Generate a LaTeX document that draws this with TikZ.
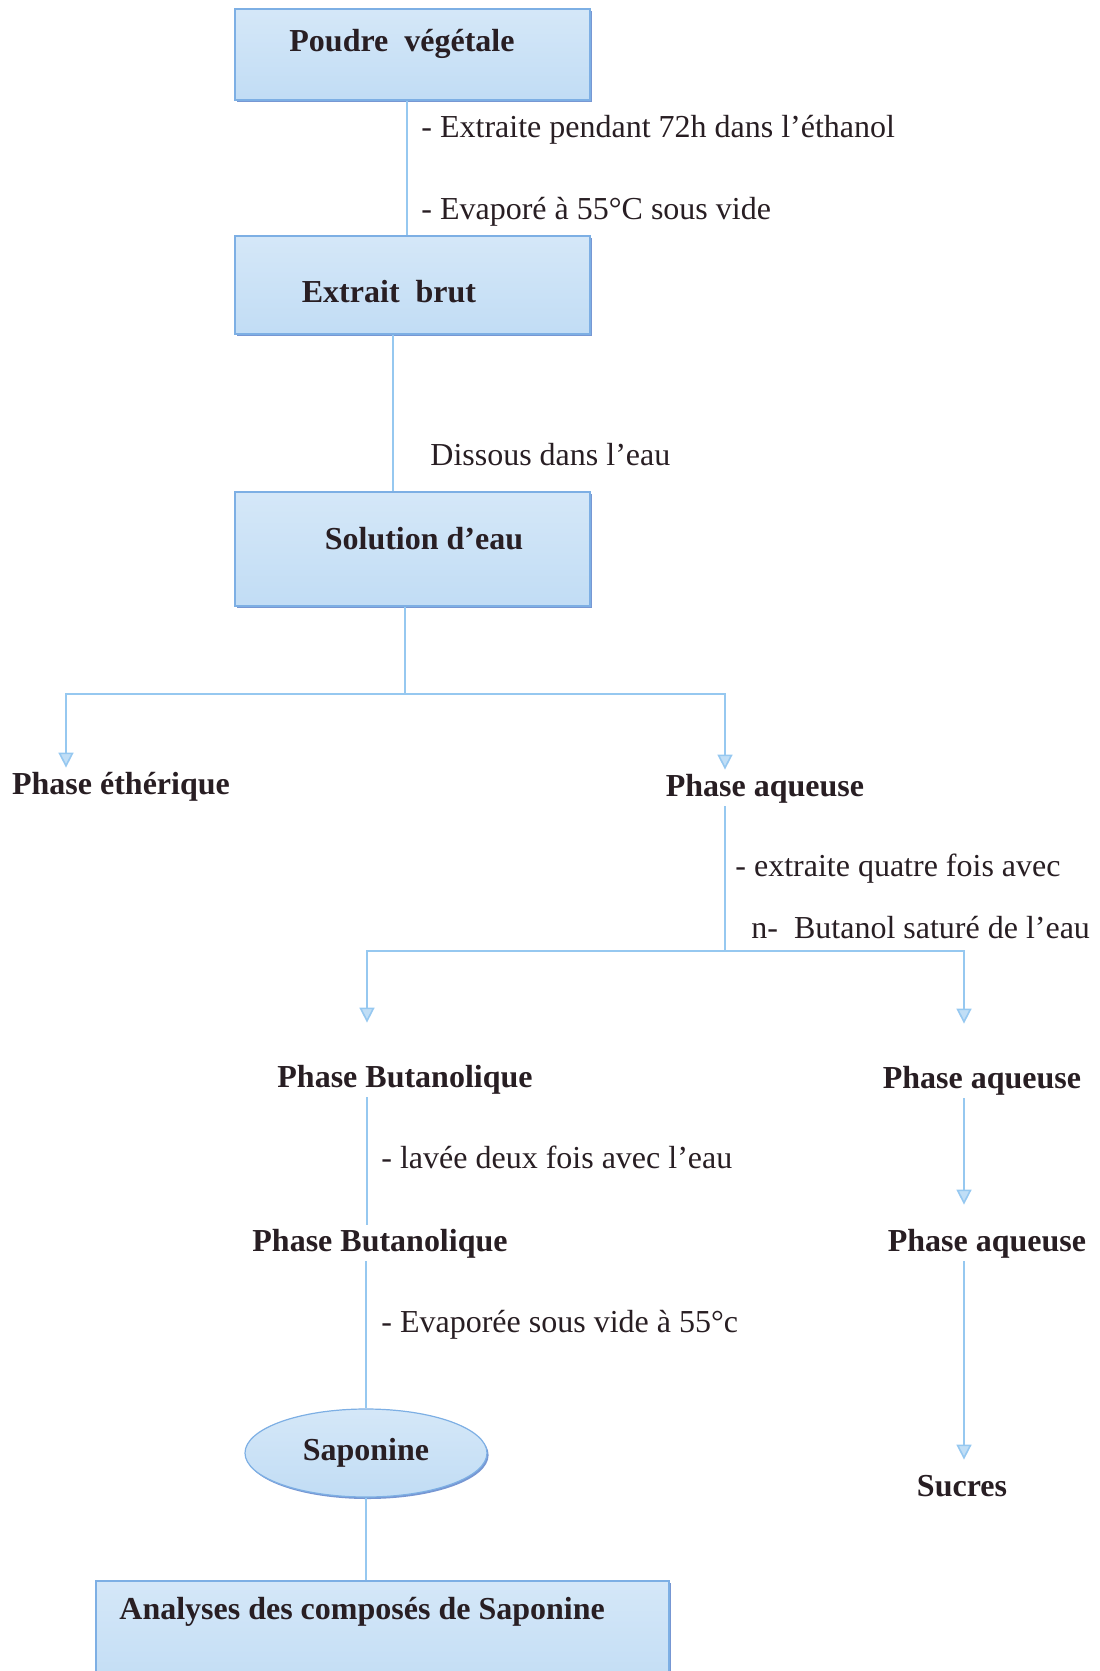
\documentclass[tikz,border=0pt]{standalone}
\usepackage{fontspec}
\setmainfont{Liberation Serif}
\usetikzlibrary{positioning,shapes.geometric,shadows,arrows.meta}

\definecolor{linkblue}{RGB}{150,200,240}
\definecolor{boxedge}{RGB}{125,175,228}
\definecolor{boxshade}{RGB}{85,125,200}
\definecolor{boxfill}{RGB}{178,212,242}
\definecolor{inkdark}{RGB}{40,30,35}

\newcommand\diagfont{\fontsize{16}{19}\selectfont}

\tikzset{
  box/.style={rectangle, draw=boxedge, line width=0.6pt,
    top color=boxfill!55, middle color=white, bottom color=boxfill!80,
    drop shadow={shadow xshift=0.8pt, shadow yshift=-1pt, fill=boxshade, opacity=0.8}},
  bubble/.style={ellipse, draw=boxedge, line width=0.6pt,
    top color=boxfill!55, middle color=white, bottom color=boxfill!80,
    drop shadow={shadow xshift=0.8pt, shadow yshift=-1pt, fill=boxshade, opacity=0.8}},
  title/.style={font=\diagfont\bfseries, text=inkdark, inner sep=1pt},
  phase/.style={font=\diagfont\bfseries, text=inkdark, inner sep=1pt, text height=12pt, text depth=4pt},
  note/.style={font=\diagfont, text=inkdark, anchor=base west, inner sep=0pt},
  link/.style={draw=linkblue, line width=0.8pt},
  flow/.style={link, -{Triangle[width=7.5pt,length=7.5pt,fill=linkblue!60]}},
}

\begin{document}
\begin{tikzpicture}[x=0.5pt, y=-0.5pt]
\useasboundingbox (0,0) rectangle (1099,1671);

% boxes and their titles
\node[box, minimum width=177.5pt, minimum height=45.5pt] (poudre) at (412.5,54.5) {};
\node[title] (poudretxt) at (402,44) {Poudre\ \ végétale};
\node[box, minimum width=177.5pt, minimum height=49pt] (extrait) at (412.5,285) {};
\node[title] (extraittxt) at (389,292) {Extrait\ \ brut};
\node[box, minimum width=177.5pt, minimum height=57pt] (solution) at (412.5,549) {};
\node[title] (solutiontxt) at (424,539) {Solution d’eau};
\node[box, minimum width=286.5pt, minimum height=55pt] (analyse) at (382.5,1636) {};
\node[title, anchor=west] (analysetxt) at (117,1612) {Analyses des composés de Saponine};
\node[bubble, minimum width=121pt, minimum height=44pt, font=\diagfont\bfseries, text=inkdark] (sapo) at (366,1453) {Saponine};

% phases
\node[phase] (ether) at (121,786) {Phase éthérique};
\node[phase] (aq1) at (765,788) {Phase aqueuse};
\node[phase] (bu1) at (405,1079) {Phase Butanolique};
\node[phase] (aq2) at (982,1080) {Phase aqueuse};
\node[phase] (bu2) at (380,1243) {Phase Butanolique};
\node[phase] (aq3) at (987,1243) {Phase aqueuse};
\node[phase] (sucres) at (962,1488) {Sucres};

% columns of the connectors
\coordinate (colA) at (407,0);
\coordinate (colB) at (393,0);
\coordinate (colL) at (66,0);
\coordinate (colR) at (725,0);
\coordinate (colBu) at (367,0);
\coordinate (colAq) at (964,0);
\coordinate (split1) at (405,694);
\coordinate (split2) at (725,951);

% connectors
\draw[link] (poudre.south -| colA) -- (extrait.north -| colA);
\draw[link] (extrait.south -| colB) -- (solution.north -| colB);
\draw[link] (solution.south -| split1) -- (split1);
\draw[flow] (split1) -| (ether.north -| colL);
\draw[flow] (split1) -| (aq1.north -| colR);
\draw[link] (aq1.south -| colR) -- (split2);
\draw[flow, shorten >=19pt] (split2) -| (bu1.north -| colBu);
\draw[flow, shorten >=19pt] (split2) -| (aq2.north -| colAq);
\draw[link] (bu1.south -| colBu) -- (bu2.north -| colBu);
\draw[link] (bu2.south -| sapo.north) -- (sapo.north);
\draw[link] (sapo.south) -- (analyse.north -| sapo.south);
\draw[flow, shorten >=10pt] (aq2.south -| colAq) -- (aq3.north -| colAq);
\draw[flow, shorten >=5pt] (aq3.south -| colAq) -- (sucres.north -| colAq);

% notes beside the connectors
\node[note] (n1) at (421,137) {- Extraite pendant 72h dans l’éthanol};
\node[note] (n2) at (421,219) {- Evaporé à 55°C sous vide};
\node[note] (n3) at (430,465) {Dissous dans l’eau};
\node[note] (n4) at (735,876) {- extraite quatre fois avec};
\node[note] (n5) at (751,938) {n-\ \ Butanol saturé de l’eau};
\node[note] (n6) at (381,1168) {- lavée deux fois avec l’eau};
\node[note] (n7) at (381,1332) {- Evaporée sous vide à 55°c};
\end{tikzpicture}
\end{document}
